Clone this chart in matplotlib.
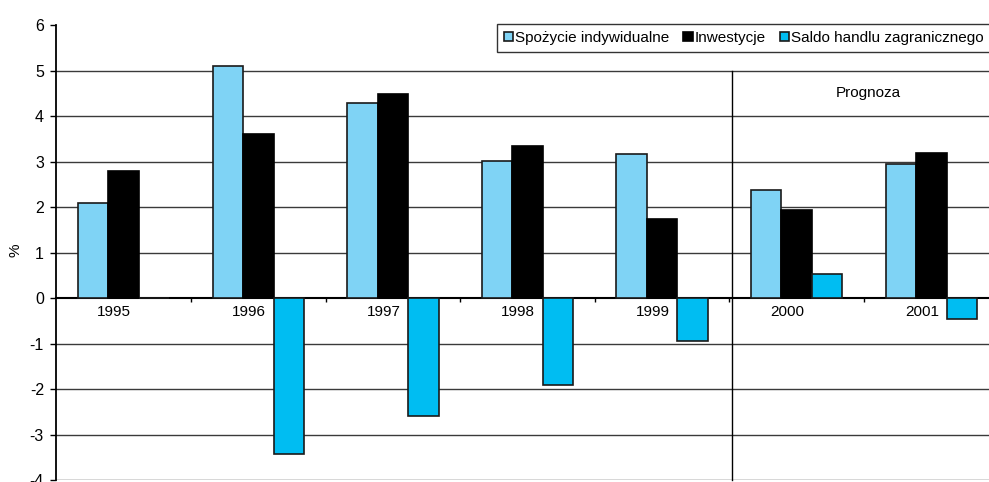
import matplotlib
matplotlib.use("Agg")
import matplotlib.pyplot as plt
import numpy as np

years = ["1995", "1996", "1997", "1998", "1999", "2000", "2001"]
spozycie = [2.1, 5.1, 4.28, 3.02, 3.17, 2.38, 2.95]
inwestycje = [2.8, 3.6, 4.49, 3.34, 1.74, 1.93, 3.19]
saldo = [0.0, -3.43, -2.59, -1.9, -0.95, 0.53, -0.46]
series_names = ["Spożycie indywidualne", "Inwestycje", "Saldo handlu zagranicznego"]
yticks = [-4, -3, -2, -1, 0, 1, 2, 3, 4, 5, 6]

plt.rcParams["font.family"] = ["Liberation Sans", "DejaVu Sans"]
FS = 11

fig = plt.figure(figsize=(9.89, 4.82), dpi=100)
W, H = 989, 482
left = 56.4 / W
width = 7 * 134.6 / W
top_px, bot_px = 25, 480.3
ax = fig.add_axes([left, 1 - bot_px / H, width, (bot_px - top_px) / H])

x = np.arange(len(years))
bw = 0.2266
c_light = "#7fd3f5"
c_black = "#000000"
c_cyan = "#00bdf2"

ax.bar(x - bw, spozycie, bw, color=c_light, edgecolor="#1a1a1a", linewidth=1.2, zorder=3, label=series_names[0])
ax.bar(x, inwestycje, bw, color=c_black, edgecolor="#000000", linewidth=1.2, zorder=3, label=series_names[1])
ax.bar(x + bw, saldo, bw, color=c_cyan, edgecolor="#1a1a1a", linewidth=1.2, zorder=3, label=series_names[2])

ax.set_xlim(-0.5, 6.5)
ax.set_ylim(-4, 6)

for v in yticks:
    if v not in (0, 6):
        ax.axhline(v, color="#3a3a3a", linewidth=1.0, zorder=1)

ax.spines["top"].set_visible(False)
ax.spines["right"].set_visible(False)
ax.spines["bottom"].set_position(("data", 0))
ax.spines["bottom"].set_linewidth(1.5)
ax.spines["bottom"].set_zorder(2.8)
ax.spines["left"].set_linewidth(1.3)

ax.set_yticks(yticks)
ax.set_yticklabels([str(v) for v in yticks], fontsize=FS + 0.5)
ax.tick_params(axis="y", direction="out", length=4, width=1, pad=5)

ax.set_xticks(x - 0.07)
ax.set_xticklabels(years, fontsize=FS)
ax.tick_params(axis="x", which="major", length=0, pad=5)
ax.set_xticks(np.arange(0.5, 6.5, 1.0), minor=True)
ax.tick_params(axis="x", which="minor", direction="out", length=3, width=1)

fig.text(15 / W, 1 - 250 / H, "%", fontsize=FS, rotation=90, ha="center", va="center")

# forecast separator and label
ax.plot([4.52, 4.52], [-4, 5], color="#000000", linewidth=1.0, zorder=2, clip_on=False)
ax.text(5.53, 4.5, "Prognoza", fontsize=FS, ha="center", va="center")

leg = fig.legend(loc="upper left", bbox_to_anchor=(497 / W, 1 - 24 / H), ncol=3,
                 fontsize=FS, frameon=True, fancybox=False, edgecolor="#000000",
                 handlelength=0.6, handleheight=0.45, handletextpad=0.15,
                 columnspacing=0.9, borderpad=0.45, borderaxespad=0)
leg.get_frame().set_linewidth(1.0)

fig.savefig("out.png", dpi=100)
